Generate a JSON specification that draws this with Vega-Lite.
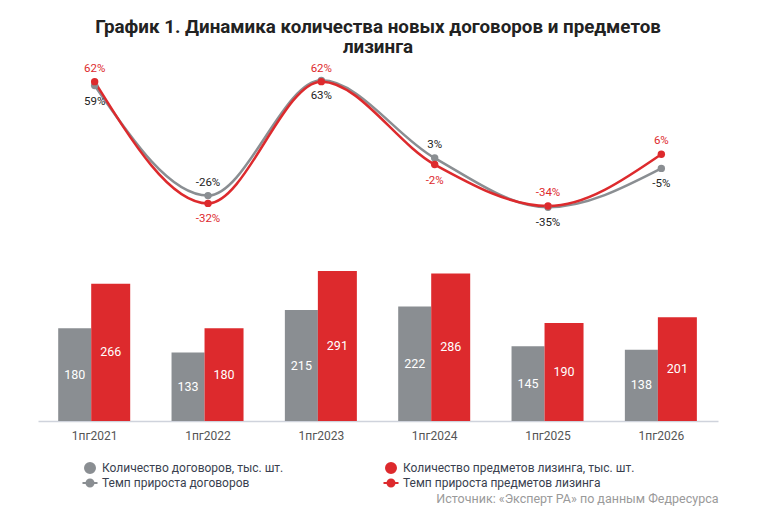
{
  "$schema": "https://vega.github.io/schema/vega-lite/v6.json",
  "width": 680,
  "height": 361,
  "autosize": "none",
  "padding": {"left": 38, "top": 60, "right": 46, "bottom": 103},
  "background": "white",
  "title": {
    "text": ["График 1. Динамика количества новых договоров и предметов", "лизинга"],
    "font": "Roboto",
    "fontSize": 18.8,
    "fontWeight": "bold",
    "color": "#222222",
    "anchor": "middle",
    "lineHeight": 20,
    "offset": 3
  },
  "data": {
    "values": [
      {"period": "1пг2021", "series": "Количество договоров, тыс. шт.", "value": 180},
      {"period": "1пг2022", "series": "Количество договоров, тыс. шт.", "value": 133},
      {"period": "1пг2023", "series": "Количество договоров, тыс. шт.", "value": 215},
      {"period": "1пг2024", "series": "Количество договоров, тыс. шт.", "value": 222},
      {"period": "1пг2025", "series": "Количество договоров, тыс. шт.", "value": 145},
      {"period": "1пг2026", "series": "Количество договоров, тыс. шт.", "value": 138},
      {"period": "1пг2021", "series": "Количество предметов лизинга, тыс. шт.", "value": 266},
      {"period": "1пг2022", "series": "Количество предметов лизинга, тыс. шт.", "value": 180},
      {"period": "1пг2023", "series": "Количество предметов лизинга, тыс. шт.", "value": 291},
      {"period": "1пг2024", "series": "Количество предметов лизинга, тыс. шт.", "value": 286},
      {"period": "1пг2025", "series": "Количество предметов лизинга, тыс. шт.", "value": 190},
      {"period": "1пг2026", "series": "Количество предметов лизинга, тыс. шт.", "value": 201},
      {"period": "1пг2021", "series": "Темп прироста договоров", "value": 0.59},
      {"period": "1пг2022", "series": "Темп прироста договоров", "value": -0.26},
      {"period": "1пг2023", "series": "Темп прироста договоров", "value": 0.63},
      {"period": "1пг2024", "series": "Темп прироста договоров", "value": 0.03},
      {"period": "1пг2025", "series": "Темп прироста договоров", "value": -0.35},
      {"period": "1пг2026", "series": "Темп прироста договоров", "value": -0.05},
      {"period": "1пг2021", "series": "Темп прироста предметов лизинга", "value": 0.62},
      {"period": "1пг2022", "series": "Темп прироста предметов лизинга", "value": -0.32},
      {"period": "1пг2023", "series": "Темп прироста предметов лизинга", "value": 0.62},
      {"period": "1пг2024", "series": "Темп прироста предметов лизинга", "value": -0.02},
      {"period": "1пг2025", "series": "Темп прироста предметов лизинга", "value": -0.34},
      {"period": "1пг2026", "series": "Темп прироста предметов лизинга", "value": 0.06}
    ]
  },
  "encoding": {
    "x": {
      "field": "period",
      "type": "nominal",
      "scale": {"paddingInner": 0, "paddingOuter": 0},
      "axis": {
        "title": "Источник: «Эксперт РА» по данным Федресурса",
        "titleAnchor": "end",
        "titleAlign": "right",
        "titleBaseline": "middle",
        "titleX": 680,
        "titleY": 77,
        "titleFont": "Roboto",
        "titleFontSize": 12.5,
        "titleFontWeight": "normal",
        "titleColor": "#9a9a9a",
        "labelFont": "Roboto",
        "labelFontSize": 12,
        "labelColor": "#555555",
        "labelAngle": 0,
        "labelPadding": 9,
        "ticks": false,
        "domainColor": "#cfd3dc",
        "domainWidth": 1.5
      }
    },
    "color": {
      "field": "series",
      "type": "nominal",
      "scale": {
        "domain": [
          "Количество договоров, тыс. шт.",
          "Количество предметов лизинга, тыс. шт.",
          "Темп прироста договоров",
          "Темп прироста предметов лизинга"
        ],
        "range": ["#8a8e92", "#dd2a2d", "#8a8e92", "#dd2a2d"]
      },
      "legend": {
        "orient": "none",
        "direction": "horizontal",
        "legendX": 46,
        "legendY": 402,
        "columns": 2,
        "columnPadding": 95,
        "rowPadding": -3,
        "title": null,
        "symbolSize": 100,
        "symbolStrokeWidth": 2,
        "labelFont": "Roboto",
        "labelFontSize": 12,
        "labelColor": "#3a3f4f",
        "labelOffset": 6,
        "labelLimit": 300,
        "encode": {
          "symbols": {
            "update": {
              "shape": {"signal": "datum.index < 2 ? 'circle' : 'M-1.5,0H1.5M-0.7,0a0.7,0.7 0 1,0 1.4,0a0.7,0.7 0 1,0 -1.4,0'"},
              "fill": {"signal": "scale('color', datum.value)"},
              "stroke": {"signal": "datum.index < 2 ? 'transparent' : scale('color', datum.value)"},
              "opacity": {"value": 1}
            }
          }
        }
      }
    }
  },
  "layer": [
    {
      "transform": [{"filter": "datum.series == 'Количество договоров, тыс. шт.'"}],
      "mark": {"type": "bar", "width": 33},
      "encoding": {
        "xOffset": {"value": 36.7},
        "y": {"field": "value", "type": "quantitative", "scale": {"domain": [0, 700]}, "axis": null}
      }
    },
    {
      "transform": [{"filter": "datum.series == 'Количество предметов лизинга, тыс. шт.'"}],
      "mark": {"type": "bar", "width": 39},
      "encoding": {
        "xOffset": {"value": 72.7},
        "y": {"field": "value", "type": "quantitative", "scale": {"domain": [0, 700]}, "axis": null}
      }
    },
    {
      "transform": [{"filter": "datum.series == 'Количество договоров, тыс. шт.'"}],
      "mark": {"type": "text", "font": "Roboto", "fontSize": 12.5, "baseline": "middle"},
      "encoding": {
        "xOffset": {"value": 36.7},
        "y": {"field": "value", "type": "quantitative", "scale": {"domain": [0, 1400]}, "axis": null},
        "text": {"field": "value", "type": "quantitative"},
        "color": {"value": "white"}
      }
    },
    {
      "transform": [{"filter": "datum.series == 'Количество предметов лизинга, тыс. шт.'"}],
      "mark": {"type": "text", "font": "Roboto", "fontSize": 12.5, "baseline": "middle"},
      "encoding": {
        "xOffset": {"value": 72.7},
        "y": {"field": "value", "type": "quantitative", "scale": {"domain": [0, 1400]}, "axis": null},
        "text": {"field": "value", "type": "quantitative"},
        "color": {"value": "white"}
      }
    },
    {
      "transform": [{"filter": "indexof(datum.series, 'Темп') == 0"}],
      "mark": {"type": "line", "interpolate": "monotone", "strokeWidth": 2.5, "point": {"size": 55, "filled": true}},
      "encoding": {
        "y": {"field": "value", "type": "quantitative", "scale": {"domain": [-2.0, 0.787]}, "axis": null}
      }
    },
    {
      "transform": [{"filter": "(datum.series == 'Темп прироста договоров' && (datum.period == '1пг2022' || datum.period == '1пг2024')) || (datum.series == 'Темп прироста предметов лизинга' && datum.period != '1пг2022' && datum.period != '1пг2024')"}],
      "mark": {"type": "text", "font": "Roboto", "fontSize": 11.5, "baseline": "middle", "dy": -13},
      "encoding": {
        "y": {"field": "value", "type": "quantitative", "scale": {"domain": [-2.0, 0.787]}, "axis": null},
        "text": {"field": "value", "type": "quantitative", "format": ".0%"},
        "color": {"condition": {"test": "datum.series == 'Темп прироста предметов лизинга'", "value": "#dd2a2d"}, "value": "#222222"}
      }
    },
    {
      "transform": [{"filter": "(datum.series == 'Темп прироста договоров' && datum.period != '1пг2022' && datum.period != '1пг2024') || (datum.series == 'Темп прироста предметов лизинга' && (datum.period == '1пг2022' || datum.period == '1пг2024'))"}],
      "mark": {"type": "text", "font": "Roboto", "fontSize": 11.5, "baseline": "middle", "dy": 16},
      "encoding": {
        "y": {"field": "value", "type": "quantitative", "scale": {"domain": [-2.0, 0.787]}, "axis": null},
        "text": {"field": "value", "type": "quantitative", "format": ".0%"},
        "color": {"condition": {"test": "datum.series == 'Темп прироста предметов лизинга'", "value": "#dd2a2d"}, "value": "#222222"}
      }
    }
  ],
  "resolve": {"scale": {"y": "independent"}},
  "config": {
    "view": {"stroke": null},
    "font": "Roboto",
    "locale": {
      "number": {
        "decimal": ".",
        "thousands": ",",
        "grouping": [3],
        "currency": ["", ""],
        "minus": "-"
      }
    }
  }
}
